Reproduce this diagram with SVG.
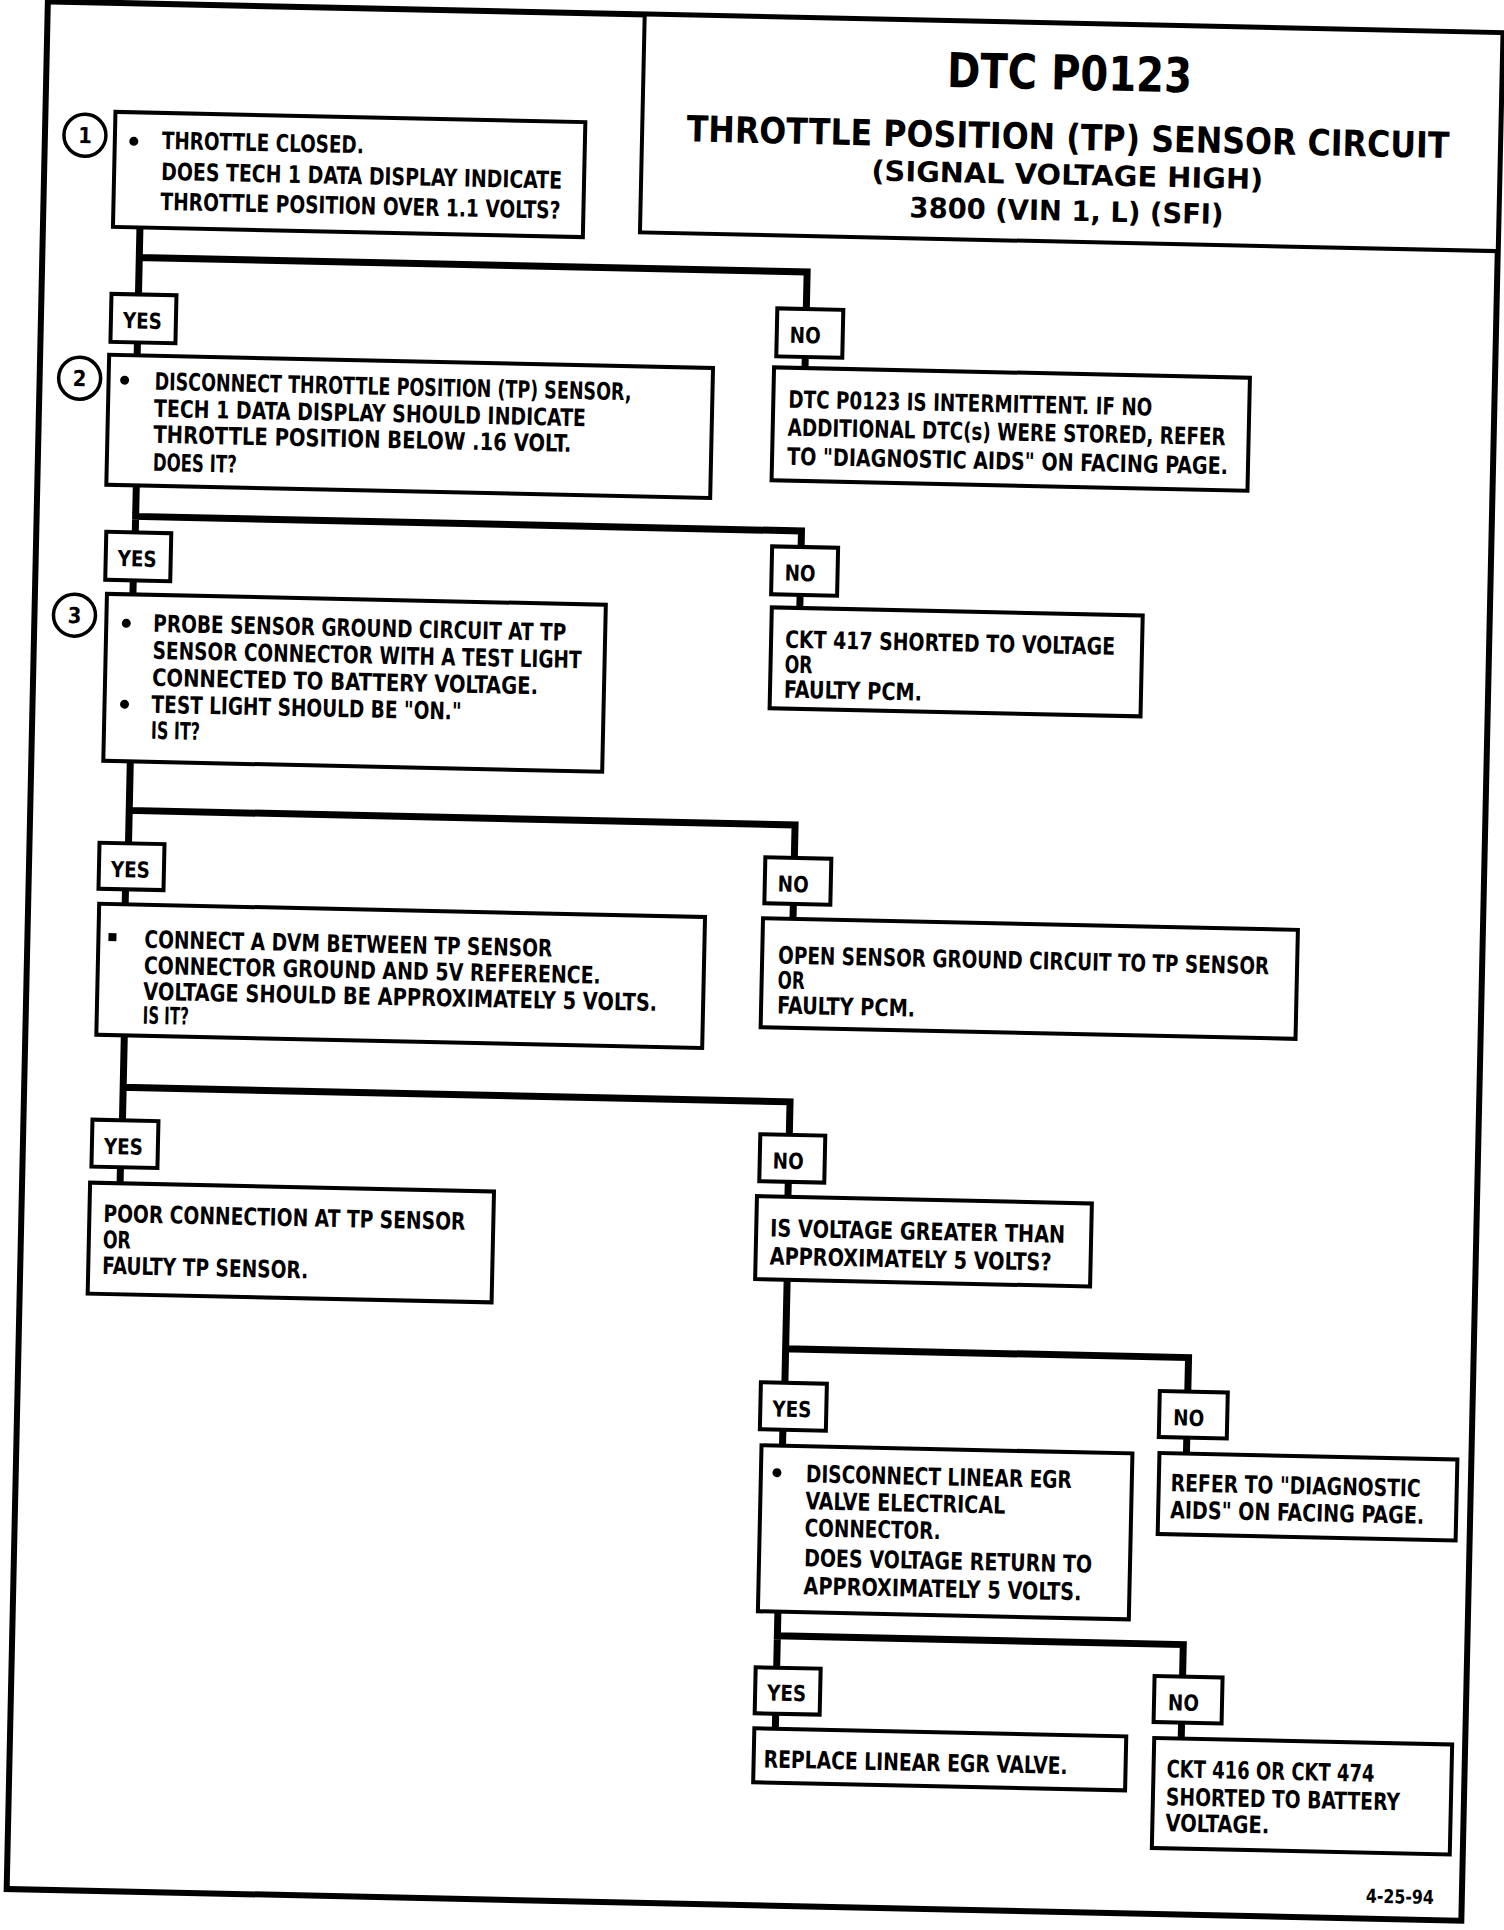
<svg xmlns="http://www.w3.org/2000/svg" width="1504" height="1930" viewBox="0 0 1504 1930">
<style>
.bx{fill:#fff;stroke:#000;stroke-width:4}
.lb{fill:#fff;stroke:#000;stroke-width:4}
.cn{fill:none;stroke:#000;stroke-width:7;stroke-linecap:square;stroke-linejoin:miter}
.fr{fill:none;stroke:#000;stroke-width:6}
.ci{fill:#fff;stroke:#000;stroke-width:3.5}
.t{font-family:"Liberation Sans Narrow","DejaVu Sans Condensed","Liberation Sans",sans-serif;font-weight:bold;font-size:24px;fill:#000}
.l{font-size:22px}
.m{text-anchor:middle}
.h1{font-size:48px}
.h2{font-size:36px}
.h3{font-size:28px}
.n{font-size:22px}
.f{font-size:19px}
</style>
<rect width="1504" height="1930" fill="#fff"/>
<g transform="rotate(1.25 752 965)">
<rect class="fr" x="27" y="17" width="1455" height="1888"/>
<g id="title">
<rect class="bx" x="624" y="17" width="858" height="218"/>
<text class="t m h1" x="1050" y="83" textLength="245" lengthAdjust="spacingAndGlyphs">DTC P0123</text>
<text class="t m h2" x="1050" y="143" textLength="763" lengthAdjust="spacingAndGlyphs">THROTTLE POSITION (TP) SENSOR CIRCUIT</text>
<text class="t m h3" x="1050" y="178" textLength="392" lengthAdjust="spacingAndGlyphs">(SIGNAL VOLTAGE HIGH)</text>
<text class="t m h3" x="1050" y="214" textLength="314" lengthAdjust="spacingAndGlyphs">3800 (VIN 1, L) (SFI)</text>
</g>
<g id="connectors">
<path class="cn" d="M124,241 V308 M124,271 H792 V308"/>
<path class="cn" d="M124,356 V369 M792,356 V367"/>
<path class="cn" d="M126,499 V546 M126,530 H792 V546"/>
<path class="cn" d="M125,594 V608 M792,594 V607"/>
<path class="cn" d="M126,775 V857 M126,824 H792 V857"/>
<path class="cn" d="M124,903 V918 M792,903 V918"/>
<path class="cn" d="M126,1049 V1134 M126,1101 H793 V1134"/>
<path class="cn" d="M125,1181 V1197 M793,1181 V1196"/>
<path class="cn" d="M794,1279 V1382 M794,1348 H1197 V1382"/>
<path class="cn" d="M793,1429 V1445 M1197,1428 V1444"/>
<path class="cn" d="M792,1611 V1667 M792,1635 H1198 V1667"/>
<path class="cn" d="M792,1713 V1728 M1198,1713 V1729"/>
</g>
<g id="step1">
<circle class="ci" cx="67" cy="150" r="21"/>
<text class="t m n" x="67" y="158">1</text>
<rect class="bx" x="97" y="126" width="470" height="115"/>
<circle cx="116" cy="155" r="4.5"/>
<text class="t" x="144" y="162" textLength="202" lengthAdjust="spacingAndGlyphs">THROTTLE CLOSED.</text>
<text class="t" x="144" y="193" textLength="401" lengthAdjust="spacingAndGlyphs">DOES TECH 1 DATA DISPLAY INDICATE</text>
<text class="t" x="144" y="223" textLength="400" lengthAdjust="spacingAndGlyphs">THROTTLE POSITION OVER 1.1 VOLTS?</text>
</g>
<g id="yes1"><rect class="lb" x="97" y="308" width="65" height="48"/><text class="t l" x="109" y="342" textLength="39" lengthAdjust="spacingAndGlyphs">YES</text></g>
<g id="no1"><rect class="lb" x="763" y="308" width="66" height="48"/><text class="t l" x="776" y="342" textLength="31" lengthAdjust="spacingAndGlyphs">NO</text></g>
<g id="step2">
<circle class="ci" cx="67" cy="393" r="21"/>
<text class="t m n" x="67" y="401">2</text>
<rect class="bx" x="96" y="369" width="604" height="130"/>
<circle cx="112" cy="394" r="4.5"/>
<text class="t" x="142" y="403" textLength="477" lengthAdjust="spacingAndGlyphs">DISCONNECT THROTTLE POSITION (TP) SENSOR,</text>
<text class="t" x="142" y="430" textLength="432" lengthAdjust="spacingAndGlyphs">TECH 1 DATA DISPLAY SHOULD INDICATE</text>
<text class="t" x="142" y="456" textLength="418" lengthAdjust="spacingAndGlyphs">THROTTLE POSITION BELOW .16 VOLT.</text>
<text class="t" x="142" y="484" textLength="84" lengthAdjust="spacingAndGlyphs">DOES IT?</text>
</g>
<g id="intermittent">
<rect class="bx" x="761" y="367" width="476" height="113"/>
<text class="t" x="776" y="407" textLength="364" lengthAdjust="spacingAndGlyphs">DTC P0123 IS INTERMITTENT. IF NO</text>
<text class="t" x="776" y="435" textLength="438" lengthAdjust="spacingAndGlyphs">ADDITIONAL DTC(s) WERE STORED, REFER</text>
<text class="t" x="776" y="464" textLength="441" lengthAdjust="spacingAndGlyphs">TO "DIAGNOSTIC AIDS" ON FACING PAGE.</text>
</g>
<g id="yes2"><rect class="lb" x="97" y="546" width="65" height="48"/><text class="t l" x="109" y="580" textLength="39" lengthAdjust="spacingAndGlyphs">YES</text></g>
<g id="no2"><rect class="lb" x="763" y="546" width="66" height="48"/><text class="t l" x="776" y="580" textLength="31" lengthAdjust="spacingAndGlyphs">NO</text></g>
<g id="step3">
<circle class="ci" cx="67" cy="630" r="21"/>
<text class="t m n" x="67" y="638">3</text>
<rect class="bx" x="99" y="608" width="499" height="167"/>
<circle cx="119" cy="637" r="4.5"/>
<circle cx="119" cy="718" r="4.5"/>
<text class="t" x="146" y="645" textLength="413" lengthAdjust="spacingAndGlyphs">PROBE SENSOR GROUND CIRCUIT AT TP</text>
<text class="t" x="146" y="672" textLength="429" lengthAdjust="spacingAndGlyphs">SENSOR CONNECTOR WITH A TEST LIGHT</text>
<text class="t" x="146" y="699" textLength="386" lengthAdjust="spacingAndGlyphs">CONNECTED TO BATTERY VOLTAGE.</text>
<text class="t" x="146" y="726" textLength="310" lengthAdjust="spacingAndGlyphs">TEST LIGHT SHOULD BE "ON."</text>
<text class="t" x="146" y="752" textLength="49" lengthAdjust="spacingAndGlyphs">IS IT?</text>
</g>
<g id="ckt417">
<rect class="bx" x="764" y="607" width="371" height="101"/>
<text class="t" x="778" y="647" textLength="330" lengthAdjust="spacingAndGlyphs">CKT 417 SHORTED TO VOLTAGE</text>
<text class="t" x="778" y="672" textLength="28" lengthAdjust="spacingAndGlyphs">OR</text>
<text class="t" x="778" y="697" textLength="138" lengthAdjust="spacingAndGlyphs">FAULTY PCM.</text>
</g>
<g id="yes3"><rect class="lb" x="97" y="857" width="65" height="46"/><text class="t l" x="109" y="891" textLength="39" lengthAdjust="spacingAndGlyphs">YES</text></g>
<g id="no3"><rect class="lb" x="763" y="857" width="66" height="46"/><text class="t l" x="776" y="891" textLength="31" lengthAdjust="spacingAndGlyphs">NO</text></g>
<g id="step4">
<rect class="bx" x="98" y="918" width="606" height="131"/>
<rect x="108" y="947" width="8" height="8"/>
<text class="t" x="144" y="961" textLength="408" lengthAdjust="spacingAndGlyphs">CONNECT A DVM BETWEEN TP SENSOR</text>
<text class="t" x="144" y="987" textLength="457" lengthAdjust="spacingAndGlyphs">CONNECTOR GROUND AND 5V REFERENCE.</text>
<text class="t" x="144" y="1013" textLength="514" lengthAdjust="spacingAndGlyphs">VOLTAGE SHOULD BE APPROXIMATELY 5 VOLTS.</text>
<text class="t" x="144" y="1037" textLength="46" lengthAdjust="spacingAndGlyphs">IS IT?</text>
</g>
<g id="opengnd">
<rect class="bx" x="762" y="918" width="535" height="109"/>
<text class="t" x="778" y="963" textLength="491" lengthAdjust="spacingAndGlyphs">OPEN SENSOR GROUND CIRCUIT TO TP SENSOR</text>
<text class="t" x="778" y="988" textLength="27" lengthAdjust="spacingAndGlyphs">OR</text>
<text class="t" x="778" y="1013" textLength="138" lengthAdjust="spacingAndGlyphs">FAULTY PCM.</text>
</g>
<g id="yes4"><rect class="lb" x="96" y="1134" width="66" height="47"/><text class="t l" x="108" y="1168" textLength="39" lengthAdjust="spacingAndGlyphs">YES</text></g>
<g id="no4"><rect class="lb" x="764" y="1134" width="65" height="47"/><text class="t l" x="777" y="1168" textLength="31" lengthAdjust="spacingAndGlyphs">NO</text></g>
<g id="poorconn">
<rect class="bx" x="95" y="1197" width="404" height="111"/>
<text class="t" x="109" y="1236" textLength="362" lengthAdjust="spacingAndGlyphs">POOR CONNECTION AT TP SENSOR</text>
<text class="t" x="109" y="1262" textLength="28" lengthAdjust="spacingAndGlyphs">OR</text>
<text class="t" x="109" y="1288" textLength="206" lengthAdjust="spacingAndGlyphs">FAULTY TP SENSOR.</text>
</g>
<g id="voltgreater">
<rect class="bx" x="762" y="1196" width="335" height="83"/>
<text class="t" x="776" y="1236" textLength="295" lengthAdjust="spacingAndGlyphs">IS VOLTAGE GREATER THAN</text>
<text class="t" x="776" y="1264" textLength="282" lengthAdjust="spacingAndGlyphs">APPROXIMATELY 5 VOLTS?</text>
</g>
<g id="yes5"><rect class="lb" x="770" y="1382" width="66" height="47"/><text class="t l" x="782" y="1416" textLength="39" lengthAdjust="spacingAndGlyphs">YES</text></g>
<g id="no5"><rect class="lb" x="1169" y="1382" width="68" height="46"/><text class="t l" x="1183" y="1416" textLength="31" lengthAdjust="spacingAndGlyphs">NO</text></g>
<g id="disconnegr">
<rect class="bx" x="772" y="1445" width="371" height="166"/>
<circle cx="788" cy="1472" r="4.5"/>
<text class="t" x="817" y="1481" textLength="266" lengthAdjust="spacingAndGlyphs">DISCONNECT LINEAR EGR</text>
<text class="t" x="817" y="1508" textLength="200" lengthAdjust="spacingAndGlyphs">VALVE ELECTRICAL</text>
<text class="t" x="817" y="1535" textLength="136" lengthAdjust="spacingAndGlyphs">CONNECTOR.</text>
<text class="t" x="817" y="1565" textLength="288" lengthAdjust="spacingAndGlyphs">DOES VOLTAGE RETURN TO</text>
<text class="t" x="817" y="1593" textLength="278" lengthAdjust="spacingAndGlyphs">APPROXIMATELY 5 VOLTS.</text>
</g>
<g id="referaids">
<rect class="bx" x="1170" y="1444" width="298" height="81"/>
<text class="t" x="1182" y="1482" textLength="250" lengthAdjust="spacingAndGlyphs">REFER TO "DIAGNOSTIC</text>
<text class="t" x="1182" y="1509" textLength="254" lengthAdjust="spacingAndGlyphs">AIDS" ON FACING PAGE.</text>
</g>
<g id="yes6"><rect class="lb" x="771" y="1667" width="65" height="46"/><text class="t l" x="783" y="1700" textLength="39" lengthAdjust="spacingAndGlyphs">YES</text></g>
<g id="no6"><rect class="lb" x="1170" y="1667" width="68" height="46"/><text class="t l" x="1184" y="1701" textLength="31" lengthAdjust="spacingAndGlyphs">NO</text></g>
<g id="replaceegr">
<rect class="bx" x="771" y="1728" width="372" height="54"/>
<text class="t" x="781" y="1767" textLength="304" lengthAdjust="spacingAndGlyphs">REPLACE LINEAR EGR VALVE.</text>
</g>
<g id="ckt416">
<rect class="bx" x="1171" y="1729" width="298" height="110"/>
<text class="t" x="1184" y="1768" textLength="208" lengthAdjust="spacingAndGlyphs">CKT 416 OR CKT 474</text>
<text class="t" x="1184" y="1796" textLength="234" lengthAdjust="spacingAndGlyphs">SHORTED TO BATTERY</text>
<text class="t" x="1184" y="1822" textLength="104" lengthAdjust="spacingAndGlyphs">VOLTAGE.</text>
</g>
<text class="t f" x="1386" y="1889" textLength="68" lengthAdjust="spacingAndGlyphs">4-25-94</text>
</g>
</svg>
